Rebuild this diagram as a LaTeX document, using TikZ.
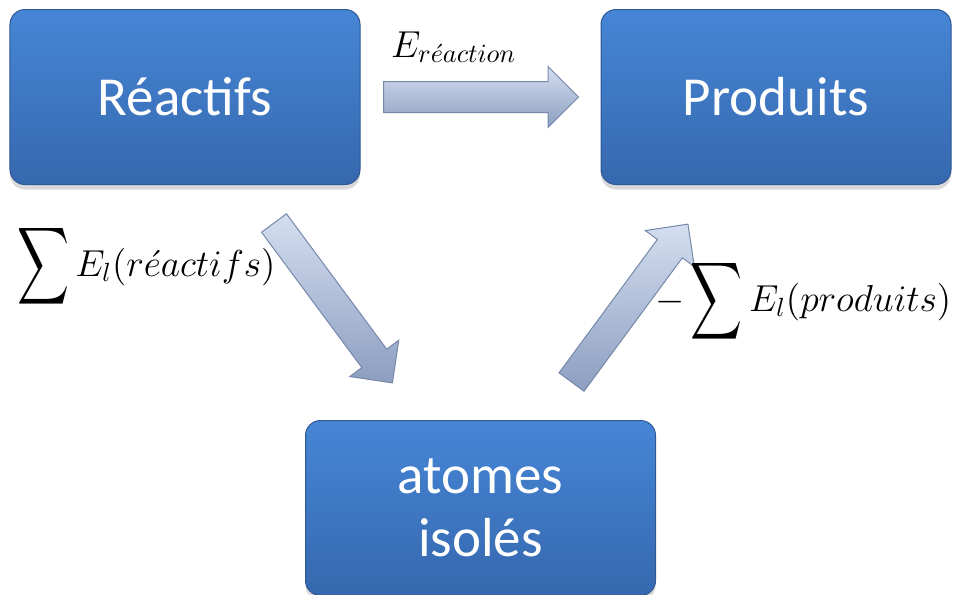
\RequirePackage{fix-cm}
\documentclass[tikz,border=0pt]{standalone}
\usepackage[no-math]{fontspec}
\setmainfont{Carlito}
\usepackage{amsmath}
\usetikzlibrary{shapes.arrows, positioning, calc, shadows}
\definecolor{etattop}{RGB}{70, 134, 214}
\definecolor{etatbot}{RGB}{54, 104, 174}
\definecolor{flechetop}{RGB}{212, 222, 240}
\definecolor{flechebot}{RGB}{140, 158, 192}
\definecolor{flecheedge}{RGB}{118, 136, 170}
\newcommand{\grandsum}{\mathop{\vcenter{\hbox{\scalebox{1}[1.5]{$\displaystyle\sum$}}}}\nolimits}
\tikzset{
  etat/.style={rectangle, rounded corners=6pt, top color=etattop, bottom color=etatbot,
               draw=etatbot!85!black, line width=0.4pt, minimum width=140pt, minimum height=70pt,
               inner sep=0pt, text=white, align=center, font=\fontsize{22}{25}\selectfont,
               drop shadow={opacity=0.3, shadow xshift=0pt, shadow yshift=-2pt}},
  blockarrow/.style={single arrow, minimum width=24pt, single arrow head extend=6pt,
                     inner xsep=0pt, inner ysep=6pt, outer sep=0pt, anchor=tail,
                     top color=flechetop, bottom color=flechebot,
                     draw=flecheedge, line width=0.4pt},
  energie/.style={font=\fontsize{15}{18}\selectfont, inner sep=0pt},
}

\begin{document}
\begin{tikzpicture}[x=0.4pt, y=-0.4pt]
  \useasboundingbox (0,0) rectangle (957,594);

  % Boxes
  \node[etat] (reac) at (185,97) {Réactifs};
  \node[etat, right=96pt of reac] (prod) {Produits};
  \coordinate (milieu) at ($(reac.south)!0.5!(prod.south)$);
  \node[etat, below=94pt of milieu] (atom) {atomes\\isolés};

  % Arrow ends
  \coordinate (h1) at ($(reac.east)+(23,0)$);
  \coordinate (h2) at ($(prod.west)+(-22,0)$);
  \coordinate (d1) at ($(reac.south)+(89,38)$);
  \coordinate (d2) at ($(atom.north)+(-88,-37)$);
  \coordinate (u1) at ($(atom.north)+(91,-38)$);
  \coordinate (u2) at ($(prod.south)+(-88,39)$);

  % Arrows
  \path let \p1=($(h2)-(h1)$), \n1={atan2(\y1,\x1)}, \n2={veclen(\x1,\y1)} in
    node[blockarrow, rotate=\n1, minimum height=\n2] (fleche1) at (h1) {};
  \path let \p1=($(d2)-(d1)$), \n1={atan2(\y1,\x1)}, \n2={veclen(\x1,\y1)} in
    node[blockarrow, rotate=\n1, minimum height=\n2] (fleche2) at (d1) {};
  \path let \p1=($(u2)-(u1)$), \n1={atan2(\y1,\x1)}, \n2={veclen(\x1,\y1)} in
    node[blockarrow, rotate=\n1, minimum height=\n2] (fleche3) at (u1) {};

  % Labels
  \node[energie, anchor=base west] (ereac) at ($(h1)+(7,-40)$) {$E_{r\acute{e}action}$};
  \node[energie, anchor=base east] (ereactifs) at ($(d1)+(2,53)$)
       {$\grandsum E_l(r\acute{e}actifs)$};
  \node[energie, anchor=base west] (eproduits) at ($(u2)+(-33,87)$)
       {$-\grandsum E_l(produits)$};
\end{tikzpicture}
\end{document}
